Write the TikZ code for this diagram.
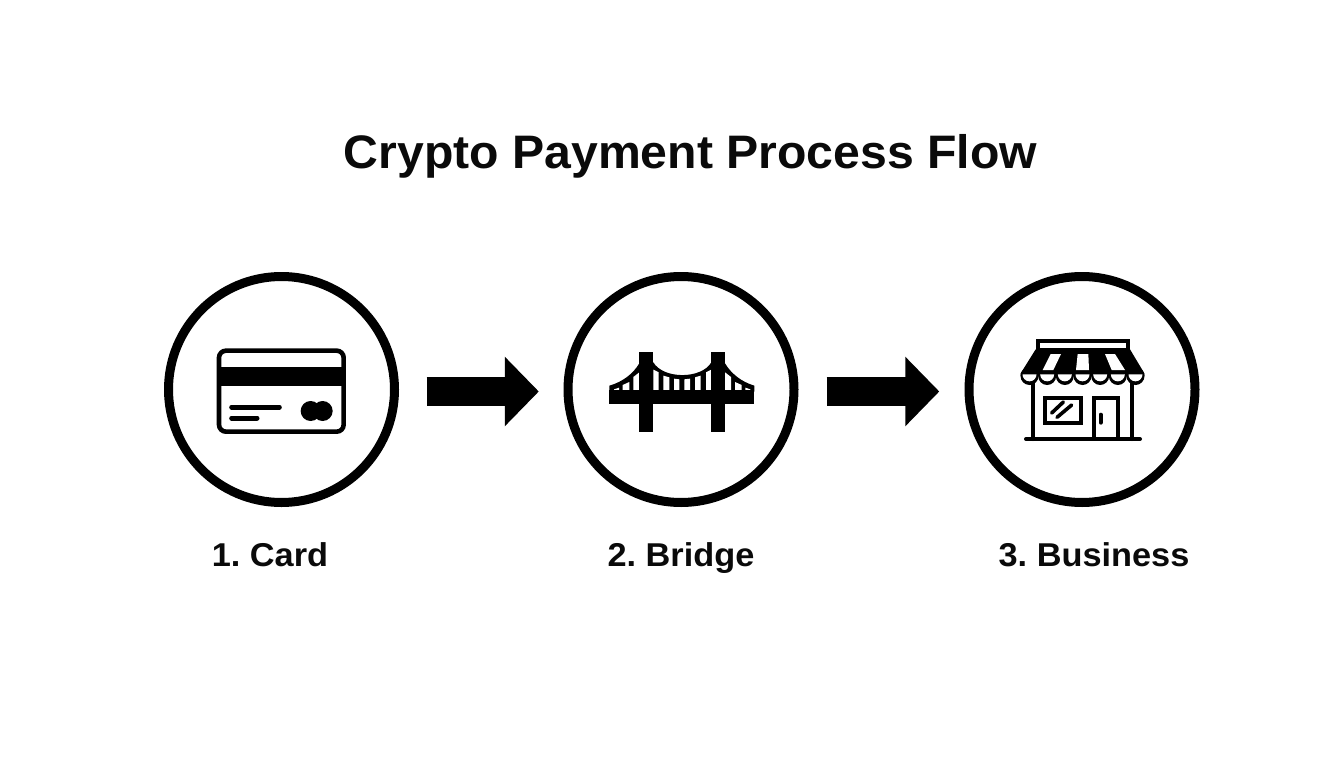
\documentclass[tikz,border=0pt]{standalone}
\usepackage{fontspec}
\setmainfont{Liberation Sans}
\usetikzlibrary{arrows.meta}
\definecolor{ink}{HTML}{000000}
\definecolor{typeink}{HTML}{0A0A0A}
\frenchspacing
\tikzset{
  ring/.style={circle,draw=ink,line width=9pt,minimum size=226pt,inner sep=0pt,outer sep=0pt},
  title/.style={font=\bfseries\fontsize{47}{50}\selectfont\addfontfeature{FakeStretch=1.025},text=typeink,anchor=base,inner sep=0pt},
  caption/.style={font=\bfseries\fontsize{33}{38}\selectfont\addfontfeature{FakeStretch=1.04},text=typeink,anchor=base,inner sep=0pt},
  flow/.style={draw=ink,line width=28.4pt,-{Triangle[length=34pt,width=67.5pt]}},
  icon/.style={x=0.33333pt,y=-0.33333pt},
  ln/.style={draw=ink,line width=#1,line cap=round,line join=round},
}
\begin{document}
\begin{tikzpicture}[x=1pt,y=-1pt]
\useasboundingbox (0,0) rectangle (1344,768);
\fill[white] (0,0) rectangle (1344,768);
\node[title] (head) at (690.5,168) {Crypto Payment Process Flow};
\node[ring] (c1) at (281.5,389.5) {};
\node[ring] (c2) at (681,389.5) {};
\node[ring] (c3) at (1082,389.5) {};
\node[caption] (l1) at (270,566) {1. Card};
\node[caption] (l2) at (681,566) {2. Bridge};
\node[caption] (l3) at (1094,566) {3. Business};
\draw[flow,shorten <=32.2pt,shorten >=29.2pt] ([yshift=-2pt]c1.east) -- ([yshift=-2pt]c2.west);
\draw[flow,shorten <=32.7pt,shorten >=29.7pt] ([yshift=-2pt]c2.east) -- ([yshift=-2pt]c3.west);
% card
\begin{scope}[shift={(200,330)},icon]
  \draw[ink,line width=4.6pt,rounded corners=7pt] (57,62) rectangle (431,305);
  \fill[ink] (57,112) rectangle (431,168);
  \draw[ln=5pt] (95,231) -- (238,231);
  \draw[ln=5pt] (95,264) -- (171,264);
  \fill[ink] (332,243) circle[radius=30];
  \fill[ink] (368,243) circle[radius=30];
\end{scope}
% bridge
\begin{scope}[shift={(600,335)},icon]
  \fill[ink] (28,152) .. controls (70,140) and (100,115) .. (118,85) -- (160,82)
     .. controls (190,133) and (304,133) .. (334,82) -- (375,85)
     .. controls (393,115) and (423,140) .. (463,152) -- (463,170) -- (28,170) -- cycle;
  \foreach \a/\b/\p/\q in {160/176/104/112, 190/208/122/127, 222/238/131/133, 253/270/133/131, 285/302/127/122, 318/334/112/104,
      100/118/126/112, 68/88/150/141, 42/57/163/158, 375/393/112/126, 405/425/141/150, 436/451/158/163}
    \fill[white] (\a,\p) -- (\b,\q) -- (\b,166) -- (\a,166) -- cycle;
  \fill[ink] (28,165) rectangle (463,206);
  \fill[ink] (118,50) rectangle (160,292);
  \fill[ink] (334,50) rectangle (375,292);
\end{scope}
% store
\begin{scope}[shift={(1010,330)},icon]
  \draw[ink,line width=4pt] (83,33) rectangle (354,60);
  \draw[ln=4pt] (70,150) -- (70,327);
  \draw[ln=4pt] (365,150) -- (365,327);
  \draw[ln=4pt] (48,327) -- (390,327);
  \draw[ink,line width=4pt] (106,204) rectangle (212,280);
  \draw[ln=3.6pt] (125,249) -- (160,216);
  \draw[ln=3.6pt] (141,262) -- (185,225);
  \draw[ink,line width=4pt] (251,327) -- (251,204) -- (324,204) -- (324,327);
  \draw[ln=4pt] (272,254) -- (272,278);
  \foreach \c in {58.5,111.5,164.5,217.5,270.5,323.5,376.5}
    \fill[ink] (\c,138) circle[radius=27];
  \fill[ink] (77,58) -- (360,58) -- (403,130) -- (403,138) -- (32,138) -- (32,130) -- cycle;
  \foreach \c in {58.5,111.5,164.5,217.5,270.5,323.5,376.5}
    \fill[white] (\c-21,133) arc[start angle=180,end angle=0,radius=21] -- cycle;
  \fill[white] (122,72) -- (153,72) -- (130,120) -- (98,120) -- cycle;
  \fill[white] (203,72) -- (235,72) -- (237,120) -- (198,120) -- cycle;
  \fill[white] (285,72) -- (315,72) -- (345,120) -- (305,120) -- cycle;
\end{scope}
\end{tikzpicture}
\end{document}
